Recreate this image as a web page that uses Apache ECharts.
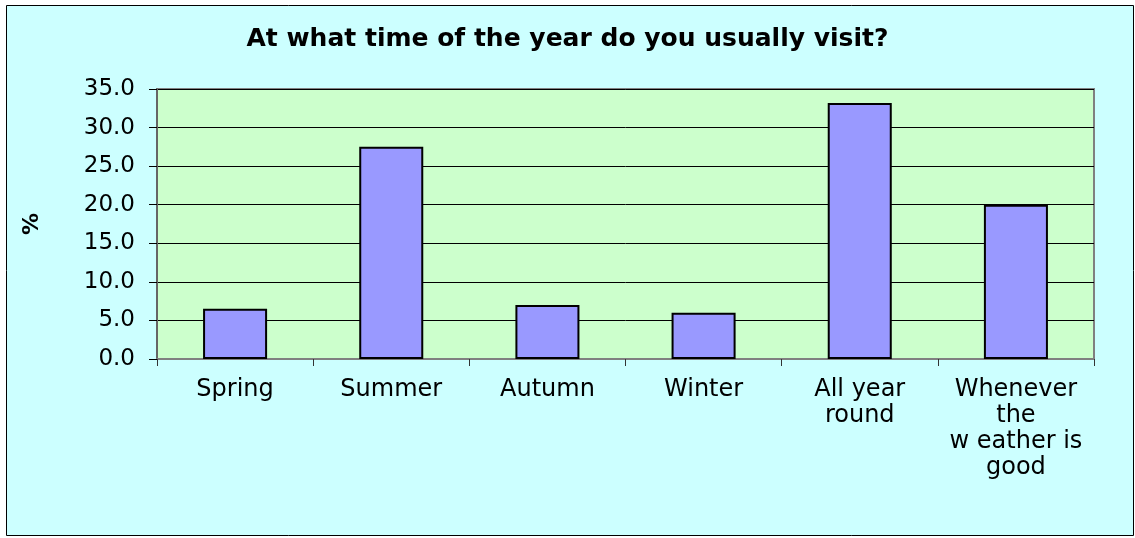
<!DOCTYPE html>
<html>
<head>
<meta charset="utf-8">
<title>At what time of the year do you usually visit?</title>
<script src="https://cdn.jsdelivr.net/npm/echarts@6/dist/echarts.min.js"></script>
<style>
  html, body { margin: 0; padding: 0; background: #fff; }
  #visitChart { width: 1135px; height: 538px; }
</style>
</head>
<body>
<div id="visitChart"></div>
<script>
  // data
  var categories = ['Spring', 'Summer', 'Autumn', 'Winter', 'All year\nround', 'Whenever\nthe\nw eather is\ngood'];
  var percentValues = [6.5, 27.5, 7.0, 6.0, 33.2, 20.0];
  var yMin = 0, yMax = 35, yStep = 5;

  var font = 'DejaVu Sans';
  var chart = echarts.init(document.getElementById('visitChart'));

  var option = {
    backgroundColor: '#fff',
    animation: false,
    // chart area box with black border
    graphic: [{
      type: 'rect',
      z: -10,
      silent: true,
      shape: { x: 6.5, y: 5.5, width: 1127, height: 530 },
      style: { fill: '#CCFFFF', stroke: '#000', lineWidth: 1 }
    }],
    title: {
      text: 'At what time of the year do you usually visit?',
      left: 'center',
      top: 22,
      textStyle: { fontFamily: font, fontWeight: 'bold', fontSize: 25, color: '#000' }
    },
    grid: {
      left: 157, right: 41, top: 89, bottom: 179,
      show: true,
      backgroundColor: '#CCFFCC',
      borderColor: '#808080',
      borderWidth: 2
    },
    xAxis: {
      type: 'category',
      data: categories,
      axisLine: { lineStyle: { color: '#808080', width: 2 } },
      axisTick: { show: true, length: 7, lineStyle: { color: '#333' } },
      axisLabel: {
        interval: 0,
        margin: 18,
        fontFamily: font,
        fontSize: 24,
        lineHeight: 26,
        color: '#000',
        align: 'center'
      }
    },
    yAxis: {
      type: 'value',
      min: yMin,
      max: yMax,
      interval: yStep,
      name: '%',
      nameLocation: 'middle',
      nameRotate: 90,
      nameGap: 114,
      nameTextStyle: { fontFamily: font, fontWeight: 'bold', fontSize: 22, color: '#000' },
      axisLine: { show: true, lineStyle: { color: '#666', width: 2 } },
      axisTick: { show: true, length: 8, lineStyle: { color: '#000' } },
      axisLabel: {
        margin: 22,
        fontFamily: font,
        fontSize: 23,
        color: '#000',
        formatter: function (v) { return v.toFixed(1); }
      },
      splitLine: { show: true, lineStyle: { color: '#000', width: 1 } }
    },
    series: [{
      type: 'bar',
      data: percentValues,
      barWidth: '41%',
      itemStyle: { color: '#9999FF', borderColor: '#000', borderWidth: 2 }
    }]
  };

  chart.setOption(option);
</script>
</body>
</html>
